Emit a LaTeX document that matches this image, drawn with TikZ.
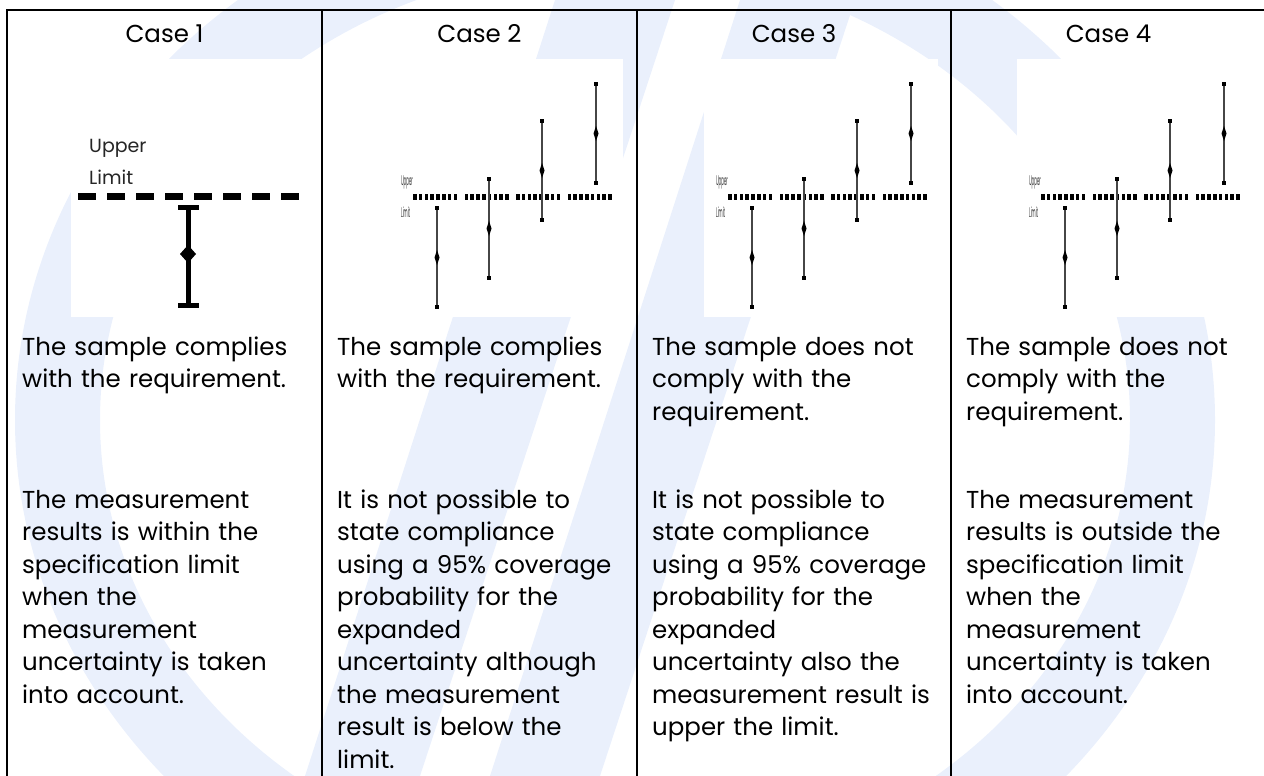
\documentclass[tikz,border=0pt]{standalone}
\usepackage{fontspec}
\setmainfont{Poppins}

\definecolor{wmark}{RGB}{234,240,252}
\definecolor{bargray}{RGB}{70,70,70}

\tikzset{
  tbl/.style={line width=1.6pt},
  casehead/.style={anchor=base,inner sep=0pt,font=\fontsize{24.5}{28}\selectfont},
  celltext/.style={anchor=base west,align=left,text width=310pt,inner sep=0pt,font=\fontsize{24.5}{32.5}\selectfont},
  biglbl/.style={anchor=west,inner sep=0pt,text=black!85,font=\fontsize{19}{20}\selectfont},
  tinylbl/.style={anchor=west,inner sep=0pt,xscale=0.28,text=black!80,font=\fontsize{14}{14}\selectfont}
}

% chart of one error bar (case 1)
\newcommand{\onebar}[2]{%
\begin{scope}[shift={(#1,#2)}]
\fill[white] (0,0) rectangle (238,258);
\node[biglbl] (upA) at (18,89) {Upper};
\node[biglbl] (limA) at (18,118) {Limit};
\foreach \k in {0,...,7}
  \fill (7+29*\k,133.5) rectangle ++(18,7);
\draw[line width=5pt] (117,148) -- (117,246);
\fill (106.5,145.5) rectangle (127.5,150.5);
\fill (106.5,243.5) rectangle (127.5,248.5);
\fill (117,186) -- (125,195) -- (117,204) -- (109,195) -- cycle;
\end{scope}}

% chart of four error bars (cases 2-4)
\newcommand{\fourbars}[3]{%
\begin{scope}[shift={(#1,#2)}]
\fill[white] (0,0) rectangle (234,258);
\node[tinylbl] (up#3) at (12,123) {Upper};
\node[tinylbl] (lim#3) at (12,153) {Limit};
\foreach \g in {0,...,3}
  \foreach \k in {0,...,7}
    \fill (24+51.5*\g+5.8*\k,135) rectangle ++(3.6,6);
\foreach \bx/\by in {48/149,100/120,153/62,207/25}{
  \draw[bargray,line width=1.2pt] (\bx,\by) -- (\bx,\by+99);
  \fill (\bx-2.2,\by-2.2) rectangle ++(4.4,4.4);
  \fill (\bx-2.2,\by+96.8) rectangle ++(4.4,4.4);
  \fill (\bx,\by+42) -- (\bx+2.5,\by+49.5) -- (\bx,\by+57) -- (\bx-2.5,\by+49.5) -- cycle;
}
\end{scope}}

\begin{document}
\begin{tikzpicture}[x=1pt,y=-1pt]
\useasboundingbox (0,0) rectangle (1264,776);

% watermark
\begin{scope}
\clip (0,0) rectangle (1264,776);
\fill[wmark,even odd rule] (615,420) ellipse [x radius=600,y radius=540]
  (615,420) ellipse [x radius=515,y radius=455];
\fill[wmark] (555,0) -- (675,0) -- (420,776) -- (305,776) -- cycle;
\fill[wmark] (740,0) -- (855,0) -- (600,776) -- (490,776) -- cycle;
\end{scope}

% table
\draw[tbl] (7,776) -- (7,10) -- (1264,10);
\foreach \x in {322,637,951}
  \draw[tbl] (\x,10) -- (\x,776);

% headers
\node[casehead] (h1) at (164.5,43) {Case 1};
\node[casehead] (h2) at (479.5,43) {Case 2};
\node[casehead] (h3) at (794,43) {Case 3};
\node[casehead] (h4) at (1108.5,43) {Case 4};

% charts
\onebar{71}{59}
\fourbars{389}{59}{B}
\fourbars{704}{59}{C}
\fourbars{1017}{59}{D}

% verdicts
\node[celltext] (v1) at (22,355) {The sample complies\\with the requirement.};
\node[celltext] (v2) at (337,355) {The sample complies\\with the requirement.};
\node[celltext] (v3) at (652,355) {The sample does not\\comply with the\\requirement.};
\node[celltext] (v4) at (966,355) {The sample does not\\comply with the\\requirement.};

% explanations
\node[celltext] (e1) at (22,508) {The measurement\\results is within the\\specification limit\\when the\\measurement\\uncertainty is taken\\into account.};
\node[celltext] (e2) at (337,508) {It is not possible to\\state compliance\\using a 95\% coverage\\probability for the\\expanded\\uncertainty although\\the measurement\\result is below the\\limit.};
\node[celltext] (e3) at (652,508) {It is not possible to\\state compliance\\using a 95\% coverage\\probability for the\\expanded\\uncertainty also the\\measurement result is\\upper the limit.};
\node[celltext] (e4) at (966,508) {The measurement\\results is outside the\\specification limit\\when the\\measurement\\uncertainty is taken\\into account.};

\end{tikzpicture}
\end{document}
